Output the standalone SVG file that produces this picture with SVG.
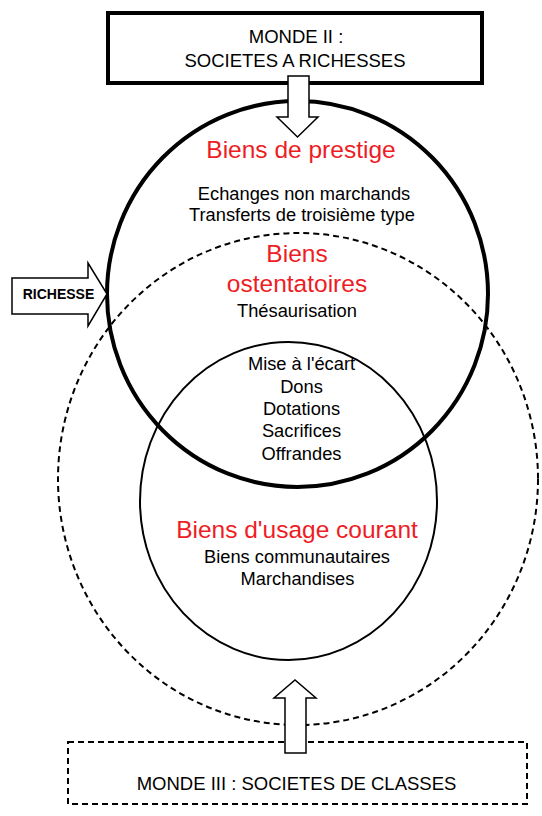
<svg xmlns="http://www.w3.org/2000/svg" width="542" height="816" viewBox="0 0 542 816">
<style>
text{font-family:"Liberation Sans",Arial,sans-serif;text-anchor:middle;fill:#000}
.red{fill:#ee1c24;font-size:24.5px}
.blk{font-size:18.3px}
.box{font-size:18.5px}
.arrow{fill:#fff;stroke:#000;stroke-width:1.5;stroke-linejoin:miter}
</style>
<rect width="542" height="816" fill="#fff"/>
<g id="circles">
<ellipse id="dashed-circle" cx="298" cy="479" rx="240" ry="246" fill="none" stroke="#000" stroke-width="2" stroke-dasharray="6,4"/>
<ellipse id="inner-circle" cx="288.5" cy="501" rx="148.5" ry="159" fill="none" stroke="#000" stroke-width="2"/>
<ellipse id="thick-circle" cx="297.5" cy="294" rx="190.5" ry="193" fill="none" stroke="#000" stroke-width="4"/>
</g>
<g id="monde2">
<rect x="108" y="13" width="374" height="70" fill="#fff" stroke="#000" stroke-width="4"/>
<text class="box" x="296" y="43">MONDE II :</text>
<text class="box" x="295" y="67">SOCIETES A RICHESSES</text>
</g>
<g id="monde3">
<rect x="68" y="742" width="459" height="62" fill="#fff" stroke="#000" stroke-width="2" stroke-dasharray="6,4"/>
<text class="box" x="296.5" y="790">MONDE III : SOCIETES DE CLASSES</text>
</g>
<g id="connectors">
<polygon class="arrow" points="288,76 309,76 309,117 318,117 297.5,137 277,117 288,117"/>
<polygon class="arrow" points="285,753 306,753 306,698 316,698 295,680 274,698 285,698"/>
<polygon class="arrow" points="12,278 88,278 88,263 107,294 88,326 88,314 12,314"/>
</g>
<g id="richesse">
<text x="58.5" y="299" style="font-size:14px;font-weight:bold">RICHESSE</text>
</g>
<g id="prestige">
<text class="red" x="301" y="158">Biens de prestige</text>
<text class="blk" x="304" y="200">Echanges non marchands</text>
<text class="blk" x="302" y="221">Transferts de troisième type</text>
</g>
<g id="ostentatoires">
<text class="red" x="297" y="262">Biens</text>
<text class="red" x="297" y="292">ostentatoires</text>
<text class="blk" x="297" y="317">Thésaurisation</text>
</g>
<g id="inner">
<text class="blk" x="301.5" y="370">Mise à l'écart</text>
<text class="blk" x="301.5" y="393">Dons</text>
<text class="blk" x="301.5" y="415">Dotations</text>
<text class="blk" x="301.5" y="437">Sacrifices</text>
<text class="blk" x="301.5" y="460">Offrandes</text>
</g>
<g id="usage">
<text class="red" x="297" y="538">Biens d'usage courant</text>
<text class="blk" x="297" y="563">Biens communautaires</text>
<text class="blk" x="297.5" y="585">Marchandises</text>
</g>
</svg>
